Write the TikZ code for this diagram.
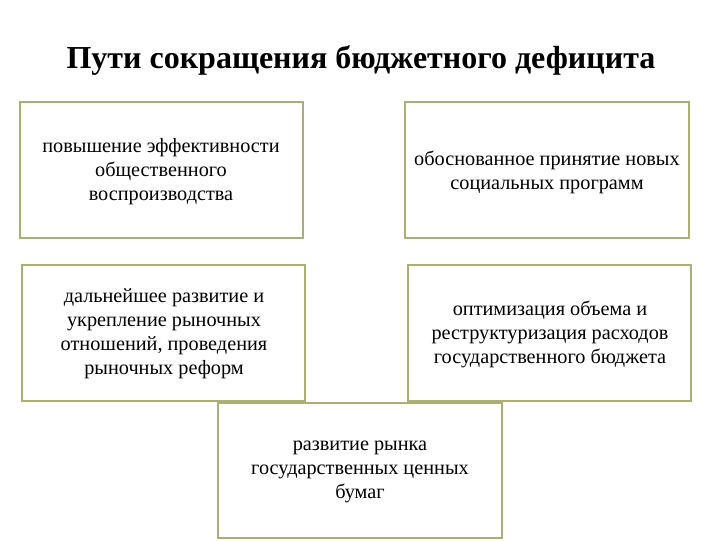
\documentclass[tikz,border=0pt]{standalone}
\usepackage{fontspec}
\setmainfont{Liberation Serif}
\tikzset{every picture/.style={line width=0.75pt}}
\definecolor{boxline}{RGB}{170,175,120}
\tikzset{wayBox/.style={draw=boxline,line width=1.5pt,fill=white,anchor=north west,inner sep=0pt},
  wayText/.style={align=center,font=\fontsize{15.2}{18}\selectfont}}
\begin{document}
\begin{tikzpicture}[x=0.75pt,y=0.75pt,yscale=-1,xscale=1]
	\useasboundingbox (0,0) rectangle (720,540);
	
	% Title
	\node (title) at (361,60) {\fontsize{24}{28}\selectfont\bfseries Пути сокращения бюджетного дефицита};
	
	% Boxes
	\draw[wayBox] (20,102) rectangle (303,238);
	\node[wayText] (effect) at (161,172) {повышение эффективности\\общественного\\воспроизводства};
	\draw[wayBox] (405,102) rectangle (689,238);
	\node[wayText] (social) at (547,172) {обоснованное принятие новых\\социальных программ};
	\draw[wayBox] (22,265) rectangle (305,401);
	\node[wayText] (market) at (164,334) {дальнейшее развитие и\\укрепление рыночных\\отношений, проведения\\рыночных реформ};
	\draw[wayBox] (408,265) rectangle (691,401);
	\node[wayText] (optim) at (550,334) {оптимизация объема и\\реструктуризация расходов\\государственного бюджета};
	\draw[wayBox] (218,403) rectangle (502,538);
	\node[wayText] (bonds) at (360,472) {развитие рынка\\государственных ценных\\бумаг};
	
\end{tikzpicture}
\end{document}
